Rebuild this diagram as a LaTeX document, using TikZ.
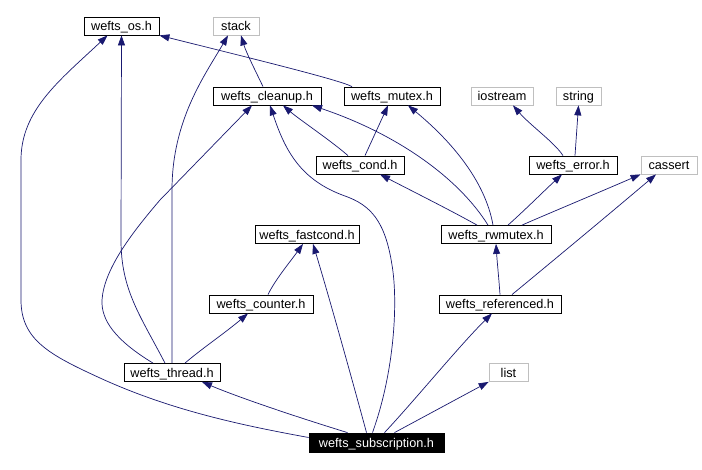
\documentclass[tikz,border=0pt]{standalone}
\usepackage{fontspec}
\setmainfont{Liberation Sans}
\usetikzlibrary{arrows.meta,calc}
\definecolor{edgeblue}{RGB}{25,25,112}
\definecolor{extgray}{RGB}{191,191,191}
\begin{document}
\begin{tikzpicture}[x=1pt,y=-1pt,
  filebox/.style={draw=black, line width=0.8pt, minimum height=18pt, inner sep=0pt, text height=10.5pt, text depth=0.5pt, font=\fontsize{12.7}{14}\selectfont, fill=white},
  extbox/.style={filebox, draw=extgray},
  mainbox/.style={filebox, fill=black, text=white, minimum height=19pt},
  dep/.style={draw=edgeblue, line width=0.7pt, -{Triangle[length=10pt,width=7pt]}}]
\useasboundingbox[fill=white] (0,0) rectangle (702,470);
% nodes
\node[filebox, minimum width=75pt] (os) at (121.5,26) {wefts\_os.h};
\node[extbox, minimum width=46pt] (stack) at (236,26) {stack};
\node[filebox, minimum width=108pt] (cleanup) at (267,96) {wefts\_cleanup.h};
\node[filebox, minimum width=96pt] (mutex) at (392,96) {wefts\_mutex.h};
\node[extbox, minimum width=62pt] (iostream) at (502,96) {iostream};
\node[extbox, minimum width=45pt] (string) at (578.5,96) {string};
\node[filebox, minimum width=88pt] (cond) at (360,165) {wefts\_cond.h};
\node[filebox, minimum width=88pt] (error) at (573,165) {wefts\_error.h};
\node[extbox, minimum width=56pt] (cassert) at (669,165) {cassert};
\node[filebox, minimum width=104pt] (fastcond) at (307,234.5) {wefts\_fastcond.h};
\node[filebox, minimum width=110pt] (rwmutex) at (496,234.5) {wefts\_rwmutex.h};
\node[filebox, minimum width=104pt] (counter) at (261,304) {wefts\_counter.h};
\node[filebox, minimum width=122pt] (referenced) at (500,304) {wefts\_referenced.h};
\node[filebox, minimum width=96pt] (thread) at (172,372.5) {wefts\_thread.h};
\node[extbox, minimum width=39pt] (list) at (508.5,372.5) {list};
\node[mainbox, minimum width=135pt] (sub) at (376.5,442.5) {wefts\_subscription.h};
% edges
\draw[dep] ([xshift=-40pt]mutex.north) .. controls (340,80) and (250,58) .. (os.south east);
\draw[dep] ([xshift=-4pt]cleanup.north) .. controls (255,70) and (246,52) .. ([xshift=5pt]stack.south);
\draw[dep] (thread.north) -- (172,190) .. controls (172,120) and (205,75) .. ([xshift=-8pt]stack.south);
\draw[dep] ([xshift=-7pt]thread.north) .. controls (140,315) and (121,290) .. (121,240) -- (os.south);
\draw[dep] ([yshift=5pt]sub.west) .. controls (240,425) and (170,410) .. (100,378) .. controls (50,355) and (21,340) .. (21,300) -- (21,160) .. controls (21,110) and (60,80) .. ([xshift=-14pt]os.south);
\draw[dep] ([xshift=-19pt]thread.north) .. controls (115,340) and (101,320) .. (102,300) .. controls (104,270) and (130,235) .. (160,200) -- ([xshift=-15pt]cleanup.south);
\draw[dep] ([xshift=-4pt]sub.north) .. controls (395,370) and (398,300) .. (392,265) .. controls (385,220) and (370,205) .. (345,196) .. controls (300,180) and (285,150) .. ([xshift=3pt]cleanup.south);
\draw[dep] ([xshift=-10pt]sub.north) .. controls (355,390) and (330,300) .. ([xshift=6pt]fastcond.south);
\draw[dep] ([xshift=7pt]counter.north) .. controls (275,280) and (290,262) .. ([xshift=-4pt]fastcond.south);
\draw[dep] ([xshift=13pt]thread.north) .. controls (200,350) and (225,333) .. ([xshift=-13pt]counter.south);
\draw[dep] ([xshift=-29pt]sub.north) .. controls (300,418) and (240,398) .. ([xshift=30pt]thread.south);
\draw[dep] ([xshift=8pt]sub.north) .. controls (415,400) and (460,345) .. ([xshift=-8pt]referenced.south);
\draw[dep] ([xshift=18pt]sub.north) -- (list.south west);
\draw[dep] (referenced.north) .. controls (499,280) and (497,260) .. (rwmutex.south);
\draw[dep] ([xshift=12pt]referenced.north) .. controls (560,255) and (620,205) .. ([xshift=-13pt]cassert.south);
\draw[dep] ([xshift=26pt]rwmutex.north) .. controls (545,215) and (600,192) .. (cassert.south west);
\draw[dep] ([xshift=12pt]rwmutex.north) .. controls (525,210) and (545,190) .. ([xshift=-11pt]error.south);
\draw[dep] ([xshift=-19pt]rwmutex.north) .. controls (450,210) and (410,190) .. ([xshift=20pt]cond.south);
\draw[dep] ([xshift=-3pt]rwmutex.north) .. controls (485,180) and (450,140) .. ([xshift=16pt]mutex.south);
\draw[dep] ([xshift=-8pt]rwmutex.north) .. controls (460,180) and (400,135) .. ([xshift=45pt]cleanup.south);
\draw[dep] ([xshift=5pt]cond.north) -- ([xshift=-4pt]mutex.south);
\draw[dep] ([xshift=-12pt]cond.north) .. controls (330,140) and (300,120) .. ([xshift=16pt]cleanup.south);
\draw[dep] ([xshift=-10pt]error.north) .. controls (555,143) and (530,125) .. ([xshift=11pt]iostream.south);
\draw[dep] ([xshift=2pt]error.north) -- (string.south);
\end{tikzpicture}
\end{document}
